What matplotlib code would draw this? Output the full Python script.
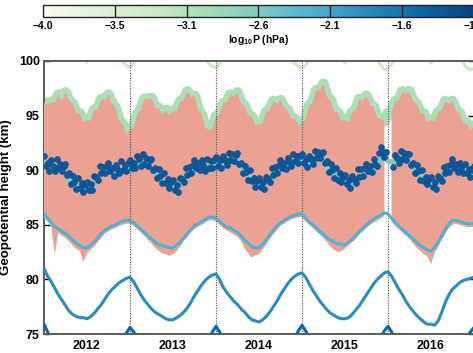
"""Geopotential height of pressure levels, 2012-2017."""

import matplotlib
matplotlib.use("Agg")
import matplotlib.pyplot as plt
import numpy as np
from matplotlib.cm import ScalarMappable
from matplotlib.colors import Normalize

nan = np.nan

# half-monthly grid (2012.0 .. 2017.0) for the level lines
TIME = 2012 + np.arange(121) / 24
# weekly-ish grid for the dot series
TIME_DOTS = 2012 + np.arange(241) / 48

YEAR_LABELS = ["2012", "2013", "2014", "2015", "2016"]
YEAR_CENTERS = [2012.5, 2013.5, 2014.5, 2015.5, 2016.5]
YEAR_BOUNDS = [2013, 2014, 2015, 2016]

CBAR_TICKS = ["\u22124.0", "\u22123.5", "\u22123.1", "\u22122.6",
              "\u22122.1", "\u22121.6", "\u22121.1"]

H_40 = [
    100.8, 101.0, 101.2, 101.3, 101.3, 101.2, 101.1, 101.0, 101.0, 100.9, 100.8, 100.6,
    99.9, 100.6, 100.9, 101.0, 101.1, 101.1, 101.0, 100.9, 100.7, 100.3, 99.9, 99.6,
    99.4, 99.8, 100.2, 100.6, 100.9, 101.1, 101.2, 101.1, 101.0, 100.9, 100.8, 100.7,
    100.4, 100.8, 101.0, 101.1, 101.1, 101.0, 100.9, 100.8, 100.6, 100.2, 99.8, 99.5,
    99.4, 99.8, 100.2, 100.6, 100.9, 101.1, 101.2, 101.1, 101.0, 100.9, 100.8, 100.6,
    100.3, 100.7, 100.9, 101.0, 101.1, 101.0, 100.9, 100.8, 100.5, 100.1, 99.8, 99.5,
    99.4, 99.6, 100.1, 100.5, 100.8, 101.0, 101.1, 101.1, 101.0, 100.9, 100.7, 100.5,
    99.8, 100.5, 100.8, 101.0, 101.1, 101.0, 100.9, 100.7, 100.5, 100.0, 99.6, 99.2,
    99.3, 99.7, 100.2, 100.6, 100.9, 101.1, 101.2, 101.1, 101.0, 100.9, 100.7, 100.4,
    99.8, 100.4, 100.8, 101.0, 101.1, 101.0, 100.9, 100.7, 100.3, 99.8, 99.4, 99.2,
    99.3,
]

H_35 = [
    96.2, 96.0, 96.2, 96.2, 96.9, 96.4, 97.1, 96.4, 96.1, 95.2, 95.2, 94.4,
    94.6, 94.5, 95.5, 95.6, 96.5, 96.4, 96.9, 96.1, 95.7, 94.5, 94.2, 93.3,
    93.8, 93.9, 95.1, 95.5, 96.5, 96.5, 96.6, 95.7, 95.7, 95.1, 95.5, 95.0,
    95.4, 95.4, 96.3, 96.4, 97.2, 96.7, 96.8, 95.6, 95.1, 93.9, 93.7, 93.8,
    94.9, 95.1, 96.1, 96.2, 96.9, 96.7, 97.1, 96.1, 95.9, 95.0, 94.9, 94.1,
    94.2, 94.3, 95.3, 95.5, 96.3, 96.1, 96.4, 95.7, 95.5, 94.7, 94.7, 94.0,
    94.4, 94.7, 95.9, 96.2, 97.3, 97.3, 97.9, 96.7, 96.4, 95.4, 95.3, 94.5,
    94.6, 94.4, 95.3, 95.5, 96.5, 96.4, 96.8, 96.0, 95.8, 94.8, 94.7, 94.5,
    95.2, 95.3, 96.3, 96.4, 97.2, 97.0, 97.2, 96.3, 96.1, 95.2, 95.2, 94.4,
    94.6, 94.4, 95.3, 95.5, 96.3, 96.1, 96.3, 95.4, 95.2, 94.3, 94.3, 93.7,
    94.0,
]

FILL_LOW = [
    85.6, 85.3, 84.9, 82.3, 84.3, 84.0, 83.8, 83.5, 83.1, 82.8, 82.6, 81.6,
    82.4, 82.7, 83.0, 83.4, 83.8, 84.2, 84.4, 84.6, 84.7, 84.9, 85.0, 85.1,
    85.1, 84.9, 84.6, 84.3, 84.0, 83.6, 83.3, 82.9, 82.6, 82.4, 82.3, 82.2,
    82.3, 82.6, 83.0, 83.5, 83.9, 84.3, 84.6, 84.8, 85.0, 85.2, 85.4, 85.4,
    85.3, 85.0, 84.7, 84.5, 84.3, 84.1, 83.9, 83.5, 82.8, 82.4, 82.0, 82.2,
    82.3, 82.7, 83.2, 83.7, 84.1, 84.5, 84.9, 85.1, 85.3, 85.5, 85.6, 85.7,
    85.7, 85.3, 85.0, 84.7, 84.4, 84.1, 83.8, 83.4, 83.0, 82.7, 82.5, 82.6,
    82.8, 83.1, 83.4, 83.7, 84.1, 84.4, 84.7, 85.0, 85.2, 85.4, 85.6, 85.8,
    nan, 85.3, 84.9, 84.6, 84.3, 84.0, 83.7, 83.3, 82.9, 82.6, 82.3, 82.1,
    81.4, 82.4, 83.0, 83.6, 84.2, 84.7, 85.0, 85.1, 85.0, 84.9, 84.8, 84.8,
    84.8,
]

H_31 = [
    90.6, 90.4, 90.3, 90.2, 90.2, 90.0, 89.6, 89.1, 88.8, 88.6, 88.4, 88.3,
    88.3, 88.5, 89.0, 89.5, 89.8, 90.0, 90.0, 89.9, 89.9, 90.0, 90.0, 90.2,
    90.3, 90.6, 90.7, 90.7, 90.6, 90.5, 90.2, 89.7, 89.3, 89.0, 88.8, 88.6,
    88.4, 88.4, 88.9, 89.3, 89.7, 90.0, 90.2, 90.4, 90.4, 90.3, 90.2, 90.4,
    90.5, 90.6, 90.7, 90.8, 90.9, 91.0, 90.8, 90.3, 89.8, 89.4, 89.0, 88.7,
    88.6, 88.7, 89.0, 89.4, 89.8, 90.1, 90.3, 90.5, 90.6, 90.7, 90.8, 90.9,
    90.8, 90.7, 90.8, 91.0, 91.2, 91.2, 90.9, 90.4, 89.9, 89.6, 89.3, 89.1,
    88.9, 88.8, 88.9, 89.1, 89.4, 89.7, 89.9, 90.1, 90.4, 90.7, 91.0, 91.2,
    90.8, 90.8, 90.9, 91.0, 91.1, 91.1, 90.8, 90.4, 89.9, 89.4, 89.0, 88.8,
    88.6, 88.7, 89.1, 89.5, 89.9, 90.2, 90.3, 90.3, 90.1, 89.9, 89.7, 89.6,
    89.7,
]

H_26 = [
    86.0, 85.6, 85.2, 84.8, 84.6, 84.4, 84.2, 83.9, 83.6, 83.3, 83.1, 82.9,
    82.9, 83.1, 83.4, 83.8, 84.2, 84.5, 84.7, 84.9, 85.0, 85.2, 85.3, 85.4,
    85.4, 85.2, 84.9, 84.6, 84.3, 84.0, 83.7, 83.4, 83.2, 83.1, 83.0, 82.9,
    82.9, 83.1, 83.4, 83.8, 84.2, 84.6, 84.9, 85.1, 85.3, 85.5, 85.7, 85.7,
    85.6, 85.3, 85.0, 84.8, 84.7, 84.5, 84.3, 84.0, 83.6, 83.3, 83.0, 82.9,
    82.9, 83.2, 83.6, 84.1, 84.5, 84.9, 85.2, 85.4, 85.6, 85.8, 85.9, 86.0,
    86.0, 85.6, 85.3, 85.0, 84.7, 84.4, 84.1, 83.8, 83.6, 83.4, 83.3, 83.2,
    83.2, 83.4, 83.7, 84.0, 84.4, 84.7, 85.0, 85.3, 85.5, 85.7, 85.9, 86.1,
    86.0, 85.6, 85.2, 84.9, 84.6, 84.3, 84.0, 83.7, 83.4, 83.1, 82.9, 82.7,
    82.6, 82.9, 83.4, 84.0, 84.6, 85.1, 85.4, 85.4, 85.3, 85.2, 85.1, 85.1,
    85.1,
]

H_21 = [
    81.0, 80.3, 79.8, 79.2, 78.6, 78.1, 77.6, 77.1, 76.8, 76.6, 76.5, 76.5,
    76.4, 76.6, 76.9, 77.3, 77.7, 78.2, 78.7, 79.1, 79.4, 79.7, 79.9, 80.1,
    80.2, 79.8, 79.2, 78.6, 78.1, 77.7, 77.3, 77.0, 76.8, 76.6, 76.4, 76.3,
    76.3, 76.5, 76.7, 77.0, 77.4, 77.9, 78.5, 79.0, 79.5, 79.9, 80.2, 80.4,
    80.5, 80.0, 79.3, 78.8, 78.4, 78.0, 77.7, 77.3, 77.0, 76.6, 76.3, 76.2,
    76.1, 76.3, 76.6, 77.0, 77.5, 78.0, 78.6, 79.1, 79.6, 80.0, 80.3, 80.5,
    80.6, 80.2, 79.6, 79.0, 78.5, 78.0, 77.6, 77.2, 76.9, 76.7, 76.5, 76.4,
    76.4, 76.5, 76.8, 77.2, 77.6, 78.1, 78.6, 79.1, 79.6, 80.0, 80.3, 80.6,
    80.7, 80.3, 79.7, 79.1, 78.6, 78.0, 77.5, 77.1, 76.7, 76.4, 76.1, 75.9,
    75.9, 75.8, 76.2, 77.0, 77.9, 78.6, 79.1, 79.4, 79.7, 79.9, 80.0, 80.1,
    80.2,
]

H_16 = [
    75.9, 75.2, 74.5, 73.9, 73.4, 73.0, 72.7, 72.5, 72.3, 72.2, 72.1, 72.0,
    72.0, 72.1, 72.2, 72.4, 72.6, 72.9, 73.2, 73.5, 73.8, 74.2, 74.6, 75.1,
    75.6, 75.2, 74.6, 74.0, 73.5, 73.1, 72.8, 72.5, 72.3, 72.2, 72.1, 72.0,
    72.0, 72.1, 72.2, 72.4, 72.6, 72.9, 73.2, 73.5, 73.8, 74.2, 74.6, 75.2,
    75.7, 75.2, 74.6, 74.0, 73.5, 73.1, 72.8, 72.5, 72.3, 72.2, 72.1, 72.0,
    72.0, 72.1, 72.2, 72.4, 72.6, 72.9, 73.2, 73.5, 73.8, 74.2, 74.6, 75.3,
    75.8, 75.3, 74.6, 74.0, 73.5, 73.1, 72.8, 72.5, 72.3, 72.2, 72.1, 72.0,
    72.0, 72.1, 72.2, 72.4, 72.6, 72.9, 73.2, 73.5, 73.8, 74.2, 74.7, 75.3,
    75.7, 75.2, 74.5, 74.0, 73.5, 73.1, 72.8, 72.5, 72.3, 72.2, 72.1, 72.0,
    72.0, 72.1, 72.2, 72.4, 72.6, 72.9, 73.2, 73.5, 73.8, 74.2, 74.6, 75.2,
    75.6,
]

DOTS_2012 = [
    91.3, 90.4, 90.7, 89.9, 90.9, 90.4, 89.9, 91.0, 90.2, 90.6, 89.9, 90.4,
    90.6, 89.6, 89.7, 88.7, 89.5, 88.9, 88.3, 89.3, 88.4, 88.8, 88.0, 88.6,
    88.9, 88.2, 88.7, 88.2, 89.5, 89.4, 89.1, 90.4, 89.7, 90.3, 89.7, 90.4,
    90.7, 89.9, 90.2, 89.5, 90.5, 90.1, 89.7, 90.8, 90.0, 90.5, 89.9, 90.7,
]
DOTS_2013 = [
    90.9, 90.2, 90.7, 90.2, 91.3, 91.0, 90.4, 91.5, 90.6, 91.1, 90.4, 90.9,
    91.0, 90.0, 90.2, 89.3, 90.1, 89.5, 88.8, 89.7, 88.8, 89.2, 88.4, 88.9,
    89.1, 88.2, 88.6, 88.0, 89.3, 89.2, 88.9, 90.2, 89.6, 90.3, 89.7, 90.5,
    90.9, 90.2, 90.7, 90.0, 90.9, 90.5, 89.9, 91.0, 90.2, 90.8, 90.2, 90.9,
]
DOTS_2014 = [
    91.2, 90.4, 90.9, 90.2, 91.3, 90.9, 90.5, 91.6, 90.9, 91.5, 90.8, 91.4,
    91.6, 90.6, 90.7, 89.7, 90.4, 89.8, 89.1, 90.0, 89.0, 89.3, 88.5, 89.0,
    89.3, 88.5, 88.9, 88.3, 89.4, 89.2, 88.9, 90.2, 89.6, 90.3, 89.7, 90.5,
    90.9, 90.2, 90.7, 90.1, 91.1, 90.8, 90.4, 91.5, 90.8, 91.3, 90.7, 91.3,
]
DOTS_2015 = [
    91.5, 90.7, 91.0, 90.3, 91.3, 91.0, 90.6, 91.8, 91.1, 91.7, 91.1, 91.6,
    91.7, 90.7, 90.8, 89.8, 90.6, 90.0, 89.3, 90.2, 89.1, 89.7, 88.9, 89.4,
    89.6, 88.7, 89.1, 88.4, 89.5, 89.2, 88.8, 90.1, 89.4, 90.1, 89.5, 90.2,
    90.6, 89.9, 90.4, 89.8, 91.0, 90.6, 90.4, 91.6, 92.1, 91.7, 91.2, 91.7,
]
DOTS_2016 = [
    nan, nan, nan, 90.3, 91.4, 91.1, 90.7, 91.8, 91.0, 91.6, 90.9, 91.5,
    91.5, 90.5, 90.7, 89.7, 90.5, 89.9, 89.1, 90.0, 89.0, 89.4, 88.7, 89.2,
    89.4, 88.5, 88.9, 88.3, 89.5, 89.3, 89.0, 90.3, 89.7, 90.4, 89.8, 90.6,
    91.0, 90.2, 90.6, 89.8, 90.7, 90.2, 89.7, 90.6, 89.7, 90.1, 89.4, 90.0,
    90.4,
]

CMAP = plt.get_cmap("GnBu")


def style_fonts() -> None:
    plt.rcParams["font.family"] = ["Liberation Sans", "DejaVu Sans"]
    plt.rcParams["font.weight"] = "bold"
    plt.rcParams["mathtext.fontset"] = "custom"
    plt.rcParams["mathtext.rm"] = "Liberation Sans:bold"
    plt.rcParams["mathtext.bf"] = "Liberation Sans:bold"


def draw_main(fig) -> None:
    ax = fig.add_axes([0.093, 0.0538, 0.9091, 0.7734])

    ax.plot(TIME, H_40, color=CMAP(0.25), lw=2.2, zorder=1)
    ax.plot(TIME, H_35, color=CMAP(0.36), lw=8, zorder=2,
            solid_joinstyle="round")
    ax.fill_between(TIME, FILL_LOW, H_35, color="#eba292", lw=0, zorder=3)

    for year in YEAR_BOUNDS:
        ax.axvline(year, color="#505050", ls=(0, (1, 1.3)), lw=0.8, zorder=4)

    ax.plot(TIME, H_31, color=CMAP(0.5), lw=3.5, zorder=5)
    ax.plot(TIME, H_26, color=CMAP(0.625), lw=2.2, zorder=5)
    ax.plot(TIME, H_21, color=CMAP(0.75), lw=2.2, zorder=5)
    ax.plot(TIME, H_16, color=CMAP(0.875), lw=2.2, zorder=5)

    dots = DOTS_2012 + DOTS_2013 + DOTS_2014 + DOTS_2015 + DOTS_2016
    ax.plot(TIME_DOTS, dots, "o", ms=4.3, mfc="#0b5a9e", mec="#084a88",
            mew=0.4, zorder=6)

    ax.set_xlim(2012, 2017)
    ax.set_ylim(75, 100)
    ax.set_xticks(YEAR_CENTERS)
    ax.set_xticklabels(YEAR_LABELS)
    ax.set_yticks([75, 80, 85, 90, 95, 100])
    ax.tick_params(axis="x", length=0, pad=4, labelsize=9)
    ax.tick_params(axis="y", direction="in", length=4, width=1,
                   right=True, labelsize=9, pad=3)
    for spine in ax.spines.values():
        spine.set_color("#5c5c5c")
        spine.set_linewidth(1.4)
    ax.set_ylabel("Geopotential height (km)", fontsize=9.5, fontweight="bold")
    ax.yaxis.set_label_coords(-0.075, 0.5)


def draw_colorbar(fig) -> None:
    cax = fig.add_axes([0.0909, 0.9518, 0.911, 0.034])
    norm = Normalize(-4.0, -1.1)
    cb = fig.colorbar(ScalarMappable(norm=norm, cmap=CMAP), cax=cax,
                      orientation="horizontal")
    ticks = np.linspace(-4.0, -1.1, len(CBAR_TICKS))
    cb.set_ticks(ticks)
    cb.set_ticklabels(CBAR_TICKS)
    cax.tick_params(length=0, labelsize=7.5, pad=3)
    for value in ticks[1:-1]:
        cax.axvline(value, color="#222222", lw=1)
    cb.outline.set_linewidth(1)
    cb.outline.set_edgecolor("#222222")
    cb.set_label(r"log$_{\mathbf{10}}$P (hPa)", fontsize=7.5,
                 fontweight="bold", labelpad=1)


def main() -> None:
    style_fonts()
    fig = plt.figure(figsize=(4.73, 3.53), dpi=100)
    draw_main(fig)
    draw_colorbar(fig)
    fig.savefig("out.png", dpi=100)
    plt.close(fig)


if __name__ == "__main__":
    main()
